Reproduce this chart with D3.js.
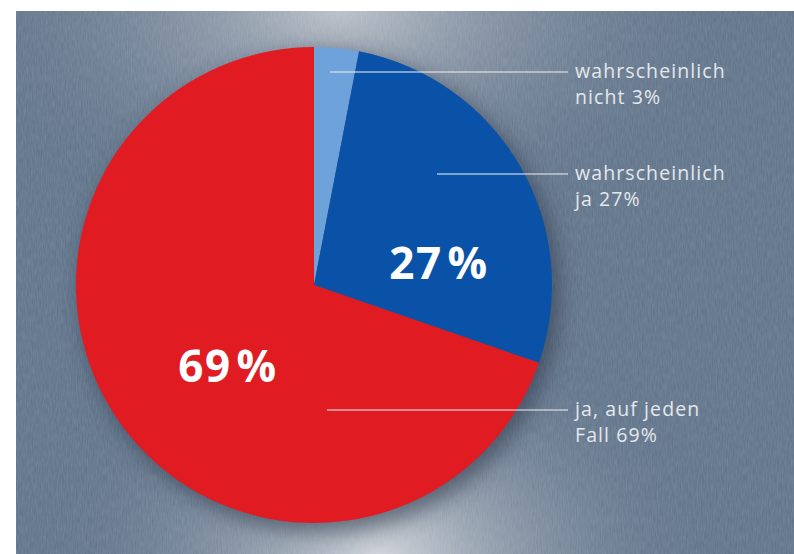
<!DOCTYPE html>
<html><head><meta charset="utf-8">
<script src="https://cdn.jsdelivr.net/npm/d3@7"></script>
<style>html,body{margin:0;padding:0;background:#fff;}</style>
</head><body>
<script>
const categories = ["wahrscheinlich nicht", "wahrscheinlich ja", "ja, auf jeden Fall"];
const values = [3, 27, 69];
const labelLines = [["wahrscheinlich", "nicht 3%"], ["wahrscheinlich", "ja 27%"], ["ja, auf jeden", "Fall 69%"]];
const bigLabels = [null, "27%", "69%"];
const colors = ["#6ea2da", "#0a52a8", "#e01b22"];

const W = 794, H = 554;
const svg = d3.select("body").append("svg").attr("width", W).attr("height", H);
const defs = svg.append("defs");

const g1 = defs.append("radialGradient").attr("id", "topglow").attr("gradientUnits", "userSpaceOnUse")
  .attr("cx", 340).attr("cy", 5).attr("r", 400).attr("gradientTransform", "translate(340,5) scale(1,0.6) translate(-340,-5)");
g1.append("stop").attr("offset", "0%").attr("stop-color", "#c6cad0").attr("stop-opacity", 0.9);
g1.append("stop").attr("offset", "35%").attr("stop-color", "#a3acb8").attr("stop-opacity", 0.55);
g1.append("stop").attr("offset", "100%").attr("stop-color", "#5d7088").attr("stop-opacity", 0);
const g2 = defs.append("radialGradient").attr("id", "botglow").attr("gradientUnits", "userSpaceOnUse")
  .attr("cx", 380).attr("cy", 560).attr("r", 340).attr("gradientTransform", "translate(380,560) scale(1,0.7) translate(-380,-560)");
g2.append("stop").attr("offset", "0%").attr("stop-color", "#d6d9de").attr("stop-opacity", 0.95);
g2.append("stop").attr("offset", "40%").attr("stop-color", "#a6afba").attr("stop-opacity", 0.55);
g2.append("stop").attr("offset", "100%").attr("stop-color", "#5d7088").attr("stop-opacity", 0);
const f = defs.append("filter").attr("id", "noise").attr("x", 0).attr("y", 0).attr("width", "100%").attr("height", "100%");
f.append("feTurbulence").attr("type", "fractalNoise").attr("baseFrequency", "0.8 0.12").attr("numOctaves", 2).attr("seed", 3);
f.append("feColorMatrix").attr("type", "matrix").attr("values", "0 0 0 0 1  0 0 0 0 1  0 0 0 0 1  0 0 0 0.16 0");
const sh = defs.append("filter").attr("id", "shadow").attr("x", "-20%").attr("y", "-20%").attr("width", "140%").attr("height", "140%");
sh.append("feGaussianBlur").attr("stdDeviation", 10);

const bx = 16, by = 11;
svg.append("rect").attr("x", bx).attr("y", by).attr("width", W - bx).attr("height", H - by).attr("fill", "#5c7087");
svg.append("rect").attr("x", bx).attr("y", by).attr("width", W - bx).attr("height", H - by).attr("fill", "url(#topglow)");
svg.append("rect").attr("x", bx).attr("y", by).attr("width", W - bx).attr("height", H - by).attr("fill", "url(#botglow)");
svg.append("rect").attr("x", bx).attr("y", by).attr("width", W - bx).attr("height", H - by).attr("filter", "url(#noise)");

const cx = 314, cy = 285, R = 238;
const pie = d3.pie().sort(null).value(d => d)(values);
const arc = d3.arc().innerRadius(0).outerRadius(R);
const g = svg.append("g").attr("transform", `translate(${cx},${cy})`);
g.append("circle").attr("cx", 6).attr("cy", 8).attr("r", R + 2).attr("fill", "#2a3646").attr("opacity", 0.55).attr("filter", "url(#shadow)");
g.selectAll("path.slice").data(pie).join("path").attr("class", "slice")
  .attr("d", arc).attr("fill", (d, i) => colors[i]);

const bigPos = [null, [439, 262], [228, 365]];
pie.forEach((d, i) => {
  if (!bigLabels[i]) return;
  const t = svg.append("text").attr("x", bigPos[i][0]).attr("y", bigPos[i][1])
    .attr("text-anchor", "middle").attr("dominant-baseline", "central")
    .attr("font-family", "'Open Sans', sans-serif").attr("font-weight", 700)
    .attr("font-size", 44).attr("fill", "#fff").attr("letter-spacing", 1.5);
  const s = bigLabels[i];
  t.append("tspan").text(s.slice(0, -1));
  t.append("tspan").attr("dx", 5).text("%");
});

const leaders = [[330, 72], [437, 174], [327, 410]];
const lineEnd = 568, textX = 575;
labelLines.forEach((lines, i) => {
  const [x0, y0] = leaders[i];
  svg.append("line").attr("x1", x0).attr("x2", lineEnd).attr("y1", y0).attr("y2", y0)
    .attr("stroke", "#e8ecf0").attr("stroke-opacity", 0.7).attr("stroke-width", 1.6);
  const t = svg.append("text").attr("x", textX).attr("y", y0 + 6)
    .attr("font-family", "'Open Sans', sans-serif").attr("font-size", 19.5)
    .attr("fill", "#e4e8ec").attr("letter-spacing", 1.1);
  lines.forEach((l, j) => t.append("tspan").attr("x", textX).attr("dy", j === 0 ? 0 : 26).text(l));
});
</script>
</body></html>
